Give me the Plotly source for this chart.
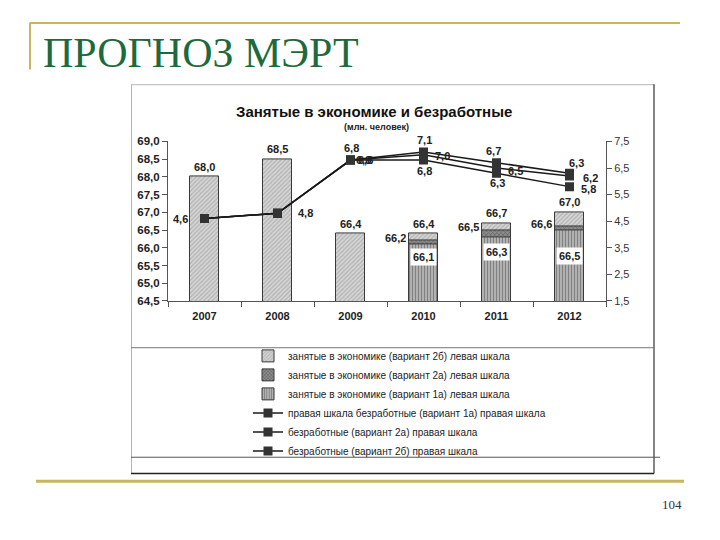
import plotly.graph_objects as go

years = ["2007", "2008", "2009", "2010", "2011", "2012"]
emp_2b = [68.0, 68.5, 66.4, 66.4, 66.7, 67.0]
emp_2a = [None, None, None, 66.2, 66.5, 66.6]
emp_1a = [None, None, None, 66.1, 66.3, 66.5]
unemp_1a = [4.6, 4.8, 6.8, 7.1, 6.7, 6.3]
unemp_2a = [4.6, 4.8, 6.8, 7.0, 6.5, 6.2]
unemp_2b = [4.6, 4.8, 6.8, 6.8, 6.3, 5.8]

names = [
    "занятые в экономике (вариант 2б) левая шкала",
    "занятые в экономике (вариант 2а) левая шкала",
    "занятые в экономике (вариант 1а) левая шкала",
    "правая шкала безработные (вариант 1а) правая шкала",
    "безработные (вариант 2а) правая шкала",
    "безработные (вариант 2б) правая шкала",
]

W, H = 720, 540
def px(x): return x / W
def py(y): return 1 - y / H

FONT = "Liberation Sans, Arial, sans-serif"
def fmt(v): return f"{v:.1f}".replace(".", ",")

fig = go.Figure()
bar_styles = [
    dict(bgcolor="#d6d6d6", fgcolor="#8a8a8a", shape="/", size=3, solidity=0.4),
    dict(bgcolor="#8e8e8e", fgcolor="#3a3a3a", shape="x", size=3, solidity=0.45),
    dict(bgcolor="#cfcfcf", fgcolor="#333333", shape="|", size=3, solidity=0.6),
]
for vals, nm, st in zip([emp_2b, emp_2a, emp_1a], names[:3], bar_styles):
    fig.add_trace(go.Bar(
        x=years, y=vals, name=nm, width=0.4,
        marker=dict(color=st["bgcolor"], line=dict(color="#3a3a3a", width=1), pattern=st),
        yaxis="y", hoverinfo="skip",
    ))
for vals, nm in zip([unemp_1a, unemp_2a, unemp_2b], names[3:]):
    fig.add_trace(go.Scatter(
        x=years, y=vals, name=nm, mode="lines+markers", yaxis="y2",
        line=dict(color="#1a1a1a", width=1.5),
        marker=dict(symbol="square", size=9, color="#333333"),
    ))

ann = []
lab_font = dict(family=FONT, size=11, color="#222222")
# employment labels (x given as category index)
for i, v in enumerate(emp_2b):
    ann.append(dict(x=i, y=v, xref="x", yref="y", text=f"<b>{fmt(v)}</b>",
                    showarrow=False, xanchor="center", yanchor="bottom", yshift=2, font=lab_font))
for i, v in enumerate(emp_2a):
    if v is None: continue
    ann.append(dict(x=i, y=v, xref="x", yref="y", text=f"<b>{fmt(v)}</b>",
                    showarrow=False, xanchor="right", yanchor="middle", xshift=-16, yshift=3,
                    font=lab_font))
box_shift = [-13, -15, -26]
k = 0
for i, v in enumerate(emp_1a):
    if v is None: continue
    ann.append(dict(x=i, y=v, xref="x", yref="y", text=f"<b>{fmt(v)}</b>",
                    showarrow=False, xanchor="center", yanchor="middle", yshift=box_shift[k],
                    bgcolor="white", borderpad=2, font=lab_font))
    k += 1
# unemployment labels (x shift, y shift) per point, None = no label
off_1a = [(-24, 0), (28, 0), (1, 12), (1, 12), (-3, 12), (7, 10)]
off_2a = [None, None, (13, 0), (19, -1), (19, -3), (21, -2)]
off_2b = [None, None, (15, 0), (1, -11), (1, -10), (19, -2)]
for vals, offs in zip([unemp_1a, unemp_2a, unemp_2b], [off_1a, off_2a, off_2b]):
    for i, v in enumerate(vals):
        o = offs[i]
        if o is None: continue
        ann.append(dict(x=i, y=v, xref="x", yref="y2", text=f"<b>{fmt(v)}</b>",
                        showarrow=False, xanchor="center", yanchor="middle",
                        xshift=o[0], yshift=o[1], font=lab_font))

# chart title
ann.append(dict(x=px(374), y=py(108), xref="paper", yref="paper", showarrow=False,
                xanchor="center", yanchor="middle",
                text="<b>Занятые в экономике и безработные</b>",
                font=dict(family=FONT, size=15, color="#111")))
ann.append(dict(x=px(376), y=py(123.5), xref="paper", yref="paper", showarrow=False,
                xanchor="center", yanchor="middle",
                text="<b>(млн. человек)</b>",
                font=dict(family=FONT, size=9, color="#222")))
# slide title and number
ann.append(dict(x=px(41), y=py(48), xref="paper", yref="paper", showarrow=False,
                xanchor="left", yanchor="middle",
                text="ПРОГНОЗ МЭРТ",
                font=dict(family="Liberation Serif, Times New Roman, serif", size=42, color="#1D6A3C")))
ann.append(dict(x=px(672), y=py(510), xref="paper", yref="paper", showarrow=False,
                xanchor="center", yanchor="middle",
                text="104",
                font=dict(family="Liberation Serif, Times New Roman, serif", size=13, color="#333")))

gold = "#C9B55E"
shapes = [
    dict(type="line", xref="paper", yref="paper", x0=px(30), x1=px(680), y0=py(17.5), y1=py(17.5),
         line=dict(color=gold, width=2)),
    dict(type="line", xref="paper", yref="paper", x0=px(30), x1=px(30), y0=py(17), y1=py(65),
         line=dict(color=gold, width=2)),
    dict(type="line", xref="paper", yref="paper", x0=px(36), x1=px(684), y0=py(486), y1=py(486),
         line=dict(color=gold, width=3)),
    # chart picture frame
    dict(type="line", xref="paper", yref="paper", x0=px(131), x1=px(654), y0=py(80.5), y1=py(80.5),
         line=dict(color="#b5b5b5", width=1)),
    dict(type="line", xref="paper", yref="paper", x0=px(131.5), x1=px(131.5), y0=py(80), y1=py(478),
         line=dict(color="#b5b5b5", width=1)),
    dict(type="line", xref="paper", yref="paper", x0=px(654), x1=px(654), y0=py(80), y1=py(478),
         line=dict(color="#333", width=1.2)),
    dict(type="line", xref="paper", yref="paper", x0=px(131), x1=px(654), y0=py(478), y1=py(478),
         line=dict(color="#222", width=1.5)),
    dict(type="line", xref="paper", yref="paper", x0=px(131), x1=px(654), y0=py(349.5), y1=py(349.5),
         line=dict(color="#777", width=1)),
    dict(type="line", xref="paper", yref="paper", x0=px(131), x1=px(660), y0=py(461.5), y1=py(461.5),
         line=dict(color="#555", width=1)),
]

tickfont = dict(family=FONT, size=11, color="#222")
fig.update_layout(
    width=W, height=H, margin=dict(l=0, r=0, t=0, b=0),
    paper_bgcolor="white", plot_bgcolor="white",
    separators=", ", barmode="overlay", bargap=0,
    showlegend=True,
    legend=dict(x=px(248), y=py(343), xanchor="left", yanchor="top",
                font=dict(family=FONT, size=10, color="#222"),
                bgcolor="rgba(0,0,0,0)", tracegroupgap=0, itemwidth=30),
    xaxis=dict(domain=[px(168), px(606)], type="category", range=[-0.5, 5.5],
               tickson="boundaries", tickangle=0, ticklabelstandoff=5,
               ticks="outside", ticklen=5, tickcolor="#555", showline=True, linecolor="#555",
               linewidth=1, showgrid=False, zeroline=False,
               tickfont=tickfont, tickprefix="<b>", ticksuffix="</b>"),
    yaxis=dict(domain=[py(301.7), py(138.5)], range=[64.5, 69.0], dtick=0.5, tick0=64.5,
               tickformat=".1f", ticks="outside", ticklen=5, tickcolor="#555",
               showline=True, linecolor="#555", linewidth=1, showgrid=False, zeroline=False,
               tickfont=dict(family=FONT, size=11.5, color="#222"),
               tickprefix="<b>", ticksuffix="</b>"),
    yaxis2=dict(overlaying="y", side="right", range=[1.5, 7.5], dtick=1, tick0=1.5,
                tickformat=".1f", ticks="outside", ticklen=5, tickcolor="#555",
                showline=True, linecolor="#555", linewidth=1, showgrid=False, zeroline=False,
                tickfont=dict(family=FONT, size=11, color="#333")),
    annotations=ann, shapes=shapes,
)
fig.write_html("out.html", config={"displayModeBar": False},
               post_script="document.body.style.margin='0';document.body.style.overflow='hidden';")
